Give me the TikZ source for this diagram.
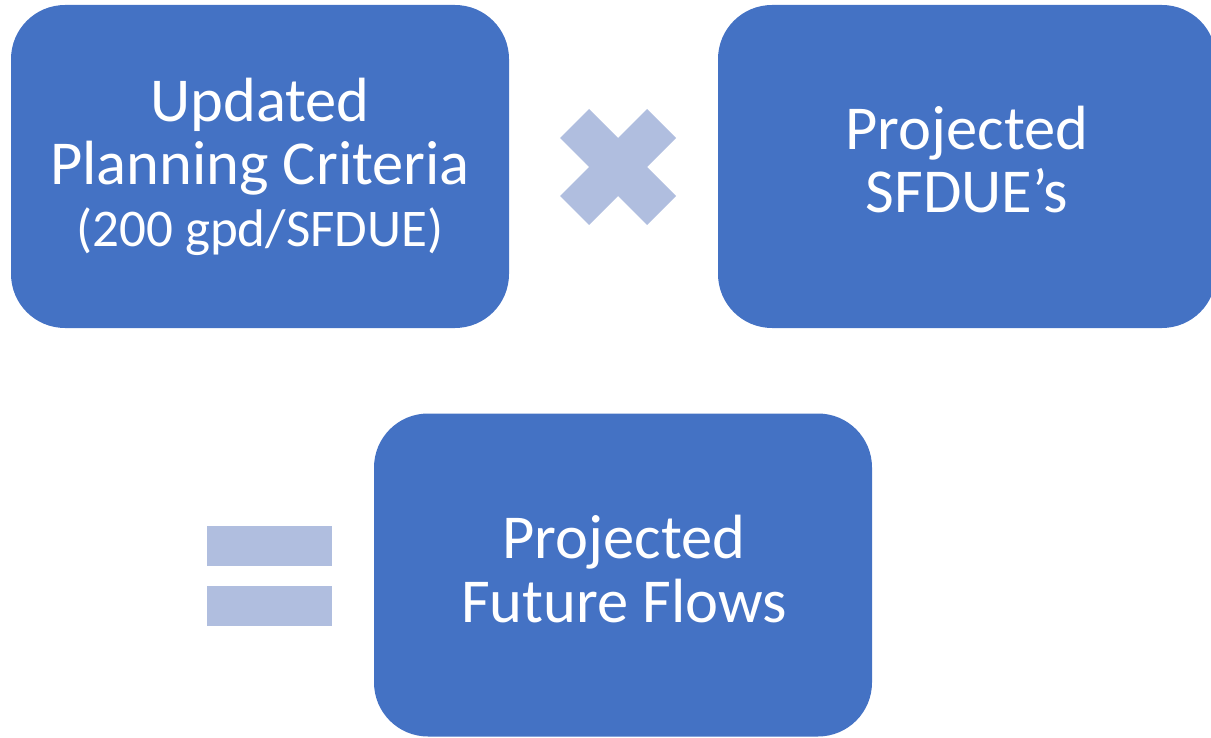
\documentclass[tikz,border=0pt]{standalone}
\usepackage{fontspec}
\setmainfont{Carlito}
\definecolor{boxblue}{HTML}{4472C4}
\definecolor{opblue}{HTML}{B0BEDF}
\begin{document}
\begin{tikzpicture}[x=1pt,y=-1pt,
  stagebox/.style={draw=none, fill=boxblue, rounded corners=54pt,
    minimum width=498pt, minimum height=323pt, inner sep=0pt},
  bigline/.style={text=white, anchor=base, inner sep=0pt,
    font=\fontsize{62.5}{75}\selectfont},
  smallline/.style={text=white, anchor=base, inner sep=0pt,
    font=\fontsize{53}{64}\selectfont},
  opsign/.style={fill=opblue, draw=none}]
\useasboundingbox (0,0) rectangle (1211,738);
\clip (0,0) rectangle (1211,738);

% the three stages
\node[stagebox] (criteria) at (260,166.5) {};
\node[stagebox] (sfdue) at (967,166.5) {};
\node[stagebox] (flows) at (623,575) {};

% stage texts
\node[bigline] (criteria1) at (260,122) {Updated};
\node[bigline] (criteria2) at (260,185) {Planning Criteria};
\node[smallline] (criteria3) at (260,247) {(200 gpd/SFDUE)};

\node[bigline] (sfdue1) at (967,150) {Projected};
\node[bigline] (sfdue2) at (967,213) {SFDUE’s};

\node[bigline] (flows1) at (624,558) {Projected};
\node[bigline] (flows2) at (624,622) {Future Flows};

% multiplication sign
\fill[opsign] (560,138) -- (589,109) -- (618,138) -- (647,109) -- (676,138)
  -- (647,167) -- (676,196) -- (647,225) -- (618,196) -- (589,225)
  -- (560,196) -- (589,167) -- cycle;

% equals sign
\fill[opsign] (207,526) rectangle (332,566);
\fill[opsign] (207,586) rectangle (332,626);
\end{tikzpicture}
\end{document}
